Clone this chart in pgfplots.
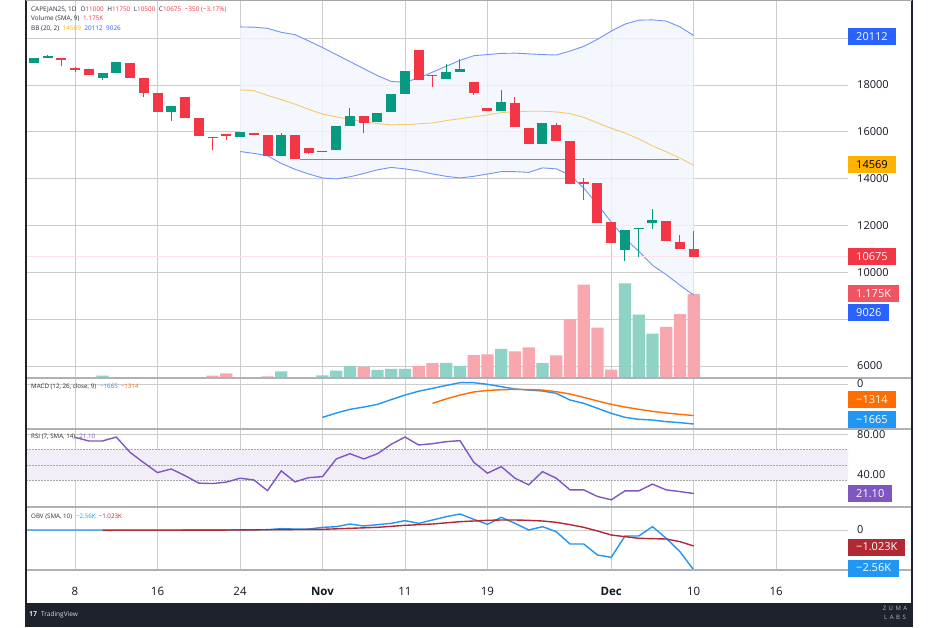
\documentclass[border=0pt]{standalone}
\usepackage{fontspec}
\setmainfont{Open Sans}
\usepackage{pgfplots}
\usepackage{pgfplotstable}
\pgfplotsset{compat=1.18}

\definecolor{tvred}{HTML}{F23645}
\definecolor{tvgreen}{HTML}{089981}
\definecolor{volred}{HTML}{F8A7AE}
\definecolor{volgreen}{HTML}{8FD3C7}
\definecolor{bbblue}{HTML}{2962FF}
\definecolor{bbline}{HTML}{7193F7}
\definecolor{bbmid}{HTML}{F7C966}
\definecolor{bbamber}{HTML}{FFB300}
\definecolor{bbfill}{HTML}{F2F7FE}
\definecolor{macdblue}{HTML}{2196F3}
\definecolor{macdorange}{HTML}{FF6D00}
\definecolor{rsipurple}{HTML}{7E57C2}
\definecolor{rsifill}{HTML}{F1EEF8}
\definecolor{obvred}{HTML}{B22833}
\definecolor{gridc}{HTML}{CDCDCD}
\definecolor{sepc}{HTML}{AEB1B8}
\definecolor{textc}{HTML}{131722}
\definecolor{legc}{HTML}{2A2E39}
\definecolor{framec}{HTML}{1E222D}
\definecolor{volbox}{HTML}{F05463}
\definecolor{redlevel}{HTML}{F25C6A}
\definecolor{lastprice}{HTML}{FDE3E5}

% candles: i o h l c
\pgfplotstableread{
i o h l c
-3 18960 19150 18950 19140
-2 19170 19260 19160 19190
2 18310 18500 18210 18500
3 18500 19000 18500 19000
7 16840 17110 16470 17110
12 15790 15990 15790 15990
15 14970 15970 14970 15860
18 15150 15170 15150 15170
19 15210 16240 15210 16240
20 16240 17030 16240 16670
22 16410 16790 16410 16790
23 16840 17610 16840 17610
24 17610 18610 17610 18610
27 18260 18900 18260 18560
28 18560 19100 18560 18690
31 16870 17790 16870 17290
34 15490 16360 15490 16360
40 10970 11810 10500 11810
41 11830 11840 10670 11840
42 12090 12710 11830 12230
}\upcandles

\pgfplotstableread{
i o h l c
-1 19140 19150 18790 19060
0 18740 18760 18570 18630
1 18700 18700 18420 18440
4 18960 18960 18310 18310
5 18310 18310 17500 17670
6 17670 17670 16840 16840
8 17490 17490 16610 16610
9 16610 16610 15830 15830
10 15800 15800 15210 15730
11 15910 15910 15640 15830
13 15970 15970 15870 15870
14 15860 15860 14970 14970
16 15860 15860 14860 14860
17 15290 15290 15060 15110
21 16670 16670 15930 16390
25 19500 19500 18210 18210
26 18440 18440 17900 18390
29 18130 18130 17570 17670
30 17010 17010 16870 16870
32 17240 17470 16210 16210
33 16170 16170 15490 15490
35 16310 16380 15610 15610
36 15610 15610 13760 13760
37 13840 14030 13100 13770
38 13810 13810 12100 12100
39 12130 12130 11270 11270
43 12210 12210 11330 11330
44 11300 11600 10990 10990
45 11000 11750 10640 10675
}\downcandles

% volume
\pgfplotstableread{
i v
2 33
15 94
18 38
19 103
20 165
22 113
23 127
24 127
27 211
28 169
31 409
34 207
40 1325
41 888
42 620
}\volup

\pgfplotstableread{
i v
10 33
11 66
14 24
21 155
25 165
26 207
29 320
30 329
32 371
33 428
35 315
36 823
37 1307
38 705
39 118
43 714
44 893
45 1175
}\voldown

% Bollinger bands (20,2)
\pgfplotstableread{
i u m l
12 20480 17790 15160
13 20470 17760 15080
14 20420 17560 14980
15 20250 17380 14650
16 20150 17180 14400
17 19880 16960 14200
18 19600 16760 14030
19 19300 16640 13990
20 19000 16520 14080
21 18700 16440 14220
22 18400 16350 14380
23 18150 16300 14480
24 18120 16310 14420
25 18300 16340 14330
26 18550 16380 14200
27 18800 16480 14100
28 19050 16560 14030
29 19250 16640 14100
30 19300 16720 14200
31 19350 16820 14300
32 19360 16860 14300
33 19330 16880 14270
34 19300 16880 14460
35 19280 16850 14420
36 19450 16780 14150
37 19650 16620 13600
38 19950 16380 12900
39 20300 16150 12150
40 20600 15950 11450
41 20770 15700 10900
42 20780 15400 10300
43 20730 15150 9900
44 20480 14880 9450
45 20112 14569 9026
}\bb

% MACD line
\pgfplotstableread{
i m
18 -1387
19 -1210
20 -1054
21 -960
22 -846
23 -650
24 -458
25 -300
26 -180
27 -60
28 55
29 55
30 -14
31 -111
32 -208
33 -250
34 -291
35 -388
36 -666
37 -804
38 -1012
39 -1220
40 -1387
41 -1470
42 -1498
43 -1567
44 -1609
45 -1665
}\macd

% MACD signal
\pgfplotstableread{
i s
26 -804
27 -620
28 -460
29 -330
30 -268
31 -238
32 -224
33 -234
34 -250
35 -319
36 -416
37 -555
38 -707
39 -846
40 -957
41 -1054
42 -1137
43 -1207
44 -1262
45 -1314
}\signal

% RSI (7)
\pgfplotstableread{
i r
0 77.0
1 73.4
2 73.4
3 77.3
4 62.1
5 51.8
6 41.9
7 45.5
8 38.9
9 31.4
10 31.0
11 32.4
12 36.3
13 34.6
14 24.0
15 43.6
16 32.7
17 36.9
18 37.9
19 55.5
20 60.7
21 55.5
22 60.7
23 70.1
24 77.3
25 69.4
26 70.7
27 72.7
28 73.7
29 52.2
30 41.3
31 47.9
32 36.3
33 29.7
34 42.9
35 36.3
36 24.7
37 24.7
38 18.1
39 14.8
40 23.7
41 23.7
42 30.4
43 24.7
44 23.0
45 21.1
}\rsi

% OBV
\pgfplotstableread{
i v
-4 0
2 0
9 0
10 -10
12 10
14 20
15 85
16 60
17 60
18 170
19 213
20 384
21 256
22 341
23 427
24 597
25 427
26 640
27 853
28 1024
29 683
30 363
31 811
32 427
33 0
34 213
35 -107
36 -896
37 -896
38 -1600
39 -1749
40 -384
41 -384
42 213
43 -533
44 -1387
45 -2560
}\obv

% OBV SMA(10)
\pgfplotstableread{
i s
2 -20
10 -10
18 43
20 107
22 171
24 299
26 384
28 533
30 619
31 640
32 640
33 619
34 576
35 491
36 341
37 171
38 -64
39 -320
40 -427
41 -533
42 -555
43 -576
44 -747
45 -1023
}\obvsma

\pgfplotsset{
  pane/.style={
    scale only axis, width=822pt,
    xmin=-3.564, xmax=56.22,
    anchor=south west,
    axis line style={draw=none},
    major tick length=0pt, tick style={draw=none},
    xtick={0,6,12,18,24,30,39,45,51},
    xticklabels={},
    xmajorgrids, ymajorgrids,
    grid style={color=gridc, line width=0.7pt},
    yticklabel pos=right,
    yticklabel style={anchor=west, inner sep=0pt, xshift=9pt,
      font=\fontsize{11}{13}\selectfont, text=textc},
    scaled y ticks=false, scaled x ticks=false,
    /pgf/number format/assume math mode=true,
    /pgf/number format/1000 sep={},
    clip=true,
  },
}

\tikzset{vbox/.style={anchor=west, inner xsep=8pt, inner ysep=0pt,
  minimum height=17pt, text depth=0pt,
  font=\fontsize{11}{13}\selectfont, text=white}}

\begin{document}
\begin{tikzpicture}[x=1pt,y=1pt]
\fill[white] (0,0) rectangle (940,627);

% grid of the price pane (under the data)
\foreach \gy in {260.97,307.80,354.64,401.48,448.32,495.16,542.0,588.8} {
  \draw[gridc, line width=0.7pt] (26,\gy) -- (848,\gy);
}
\foreach \gx in {75.0,157.5,240.0,322.5,405.0,487.5,611.2,693.7,776.2} {
  \draw[gridc, line width=0.7pt] (\gx,249) -- (\gx,626);
}

% ---------------- price pane ----------------
\begin{axis}[pane, at={(26pt,249pt)}, height=377pt,
  xmajorgrids=false, ymajorgrids=false,
  ymin=5489, ymax=21587, ytick={6000,8000,...,20000},
  yticklabels={6000,,10000,12000,14000,16000,18000,}]
  % band fill: lower band, then the width of the band stacked on it
  \addplot[draw=none, stack plots=y, forget plot] table[x=i,y=l]{\bb};
  \addplot[draw=none, fill=bbfill, fill opacity=0.8, stack plots=y, forget plot]
    table[x=i, y expr=\thisrow{u}-\thisrow{l}]{\bb} \closedcycle;
  % volume
  \addplot[ybar, bar width=0.9, bar shift=0pt, fill=volgreen, draw=none, forget plot]
    table[x=i, y expr=5489+3.053*\thisrow{v}]{\volup};
  \addplot[ybar, bar width=0.9, bar shift=0pt, fill=volred, draw=none, forget plot]
    table[x=i, y expr=5489+3.053*\thisrow{v}]{\voldown};
  % band lines
  \addplot[color=bbline, line width=0.9pt, forget plot] table[x=i,y=u]{\bb};
  \addplot[color=bbline, line width=0.9pt, forget plot] table[x=i,y=l]{\bb};
  \addplot[color=bbmid, line width=0.9pt, forget plot] table[x=i,y=m]{\bb};
  % last price line and horizontal level
  \addplot[color=lastprice, line width=0.9pt, forget plot] coordinates {(-4,10675) (57,10675)};
  \draw[redlevel, line width=1.3pt] (axis cs:16.4,14815) -- (axis cs:43.9,14815);
  % candles: wicks (low to high) and bodies (open to close)
  \addplot[color=tvgreen, line width=1pt, forget plot, quiver={u=0, v={\thisrow{h}-\thisrow{l}}}]
    table[x=i, y=l]{\upcandles};
  \addplot[color=tvred, line width=1pt, forget plot, quiver={u=0, v={\thisrow{h}-\thisrow{l}}}]
    table[x=i, y=l]{\downcandles};
  \addplot[color=tvgreen, line width=10pt, forget plot, quiver={u=0, v={max(abs(\thisrow{c}-\thisrow{o}),50)}}]
    table[x=i, y expr={min(\thisrow{o},\thisrow{c})}]{\upcandles};
  \addplot[color=tvred, line width=10pt, forget plot, quiver={u=0, v={max(abs(\thisrow{c}-\thisrow{o}),50)}}]
    table[x=i, y expr={min(\thisrow{o},\thisrow{c})}]{\downcandles};
\end{axis}

% ---------------- MACD pane ----------------
\begin{axis}[pane, at={(26pt,198pt)}, height=51pt,
  ymin=-1872, ymax=250, ytick={0}]
  \addplot[color=macdblue, line width=1.4pt] table[x=i,y=m]{\macd};
  \addplot[color=macdorange, line width=1.4pt] table[x=i,y=s]{\signal};
\end{axis}

% ---------------- RSI pane ----------------
\begin{axis}[pane, at={(26pt,120pt)}, height=78pt,
  ymin=7.66, ymax=85.3, ytick={40,80},
  yticklabel style={/pgf/number format/.cd, fixed, fixed zerofill, precision=2, /tikz/.cd}]
  \addplot[draw=none, fill=rsifill, forget plot] coordinates {(-4,34.1) (57,34.1) (57,64.7) (-4,64.7) (-4,34.1)};
  \addplot[color=gray!70, line width=0.6pt, dash pattern=on 1.5pt off 1.5pt, forget plot] coordinates {(-4,64.7) (57,64.7)};
  \addplot[color=gray!70, line width=0.6pt, dash pattern=on 1.5pt off 1.5pt, forget plot] coordinates {(-4,49.4) (57,49.4)};
  \addplot[color=gray!70, line width=0.6pt, dash pattern=on 1.5pt off 1.5pt, forget plot] coordinates {(-4,34.1) (57,34.1)};
  \addplot[color=rsipurple, line width=1.4pt] table[x=i,y=r]{\rsi};
\end{axis}

% ---------------- OBV pane ----------------
\begin{axis}[pane, at={(26pt,57pt)}, height=63pt,
  ymin=-2560, ymax=1472, ytick={0},
  xticklabels={8,16,24,\textbf{Nov},11,19,\textbf{Dec},10,16},
  xticklabel style={anchor=base, yshift=-25pt, font=\fontsize{11.5}{13}\selectfont, text=textc}]
  \addplot[color=macdblue, line width=1.4pt] table[x=i,y=v]{\obv};
  \addplot[color=obvred, line width=1.4pt] table[x=i,y=s]{\obvsma};
\end{axis}

% separators
\foreach \yy in {249,198,120,57} {
  \draw[sepc, line width=1.2pt] (26,\yy) -- (912,\yy);
}

% legends
\node[anchor=west, inner sep=0pt, font=\fontsize{6.4}{8}\selectfont, text=legc] at (31,617)
  {CAPEJAN25, 1D\hspace{4pt}O\textcolor{tvred}{11000}\hspace{3.5pt}H\textcolor{tvred}{11750}\hspace{3.5pt}L\textcolor{tvred}{10500}\hspace{3.5pt}C\textcolor{tvred}{10675}\hspace{3.5pt}\textcolor{tvred}{−350 (−3.17\%)}};
\node[anchor=west, inner sep=0pt, font=\fontsize{6.4}{8}\selectfont, text=legc] at (31,608)
  {Volume (SMA, 9)\hspace{3.5pt}\textcolor{tvred}{1.175K}};
\node[anchor=west, inner sep=0pt, font=\fontsize{6.4}{8}\selectfont, text=legc] at (31,598)
  {BB (20, 2)\hspace{3.5pt}\textcolor{bbamber}{14569}\hspace{3.5pt}\textcolor{bbblue}{20112}\hspace{3.5pt}\textcolor{bbblue}{9026}};
\node[anchor=west, inner sep=0pt, font=\fontsize{6.2}{7}\selectfont, text=legc] at (31,240)
  {MACD (12, 26, close, 9)\hspace{4pt}\textcolor{macdblue}{−1665}\hspace{3pt}\textcolor{macdorange}{−1314}};
\node[anchor=west, inner sep=0pt, font=\fontsize{6.2}{7}\selectfont, text=legc] at (31,190)
  {RSI (7, SMA, 14)\hspace{4pt}\textcolor{rsipurple}{21.10}};
\node[anchor=west, inner sep=0pt, font=\fontsize{6.2}{7}\selectfont, text=legc] at (31,110)
  {OBV (SMA, 10)\hspace{4pt}\textcolor{macdblue}{−2.56K}\hspace{3pt}\textcolor{obvred}{−1.023K}};

% value boxes on the scale
\node[vbox, fill=bbblue] at (848,590) {20112};
\node[vbox, fill=bbamber, text=black] at (848,462) {14569};
\node[vbox, fill=tvred] at (848,370.5) {10675};
\node[vbox, fill=volbox] at (848,333) {1.175K};
\node[vbox, fill=bbblue] at (848,314) {9026};
\node[vbox, fill=macdorange] at (848,227) {−1314};
\node[vbox, fill=macdblue] at (848,207.5) {−1665};
\node[vbox, fill=rsipurple] at (848,133) {21.10};
\node[vbox, fill=obvred] at (848,80) {−1.023K};
\node[vbox, fill=macdblue] at (848,59) {−2.56K};

% frame and footer
\fill[framec] (26,0) rectangle (912,24);
\draw[framec, line width=1.6pt] (26,0) -- (26,627);
\draw[framec, line width=1.6pt] (912,0) -- (912,627);
\draw[gray!70, line width=0.6pt] (26,626.7) -- (912,626.7);
\node[anchor=west, inner sep=0pt, font=\bfseries\fontsize{7}{8}\selectfont, text=white!85!black] at (29,12.5) {17};
\node[anchor=west, inner sep=0pt, font=\fontsize{6.5}{8}\selectfont, text=white!85!black] at (41,12.5) {TradingView};
\node[inner sep=0pt, font=\fontsize{6}{6}\selectfont, text=gray!55] at (895,19) {Z\hspace{2.5pt}U\hspace{2.5pt}M\hspace{2.5pt}A};
\node[inner sep=0pt, font=\fontsize{6}{6}\selectfont, text=gray!55] at (895,10) {L\hspace{2.5pt}A\hspace{2.5pt}B\hspace{2.5pt}S};

\pgfresetboundingbox
\path[use as bounding box] (0,0) rectangle (940,627);
\end{tikzpicture}
\end{document}
